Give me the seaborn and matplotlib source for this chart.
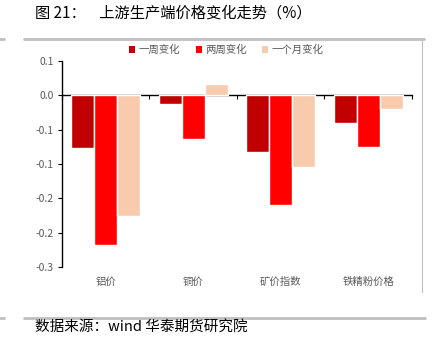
import numpy as np
import pandas as pd
import matplotlib
matplotlib.use("Agg")
import matplotlib.pyplot as plt
from matplotlib.lines import Line2D
from matplotlib.patches import Patch
from matplotlib.ticker import FixedLocator, FuncFormatter
import seaborn as sns
import math

categories = ["铝价", "铜价", "矿价指数", "铁精粉价格"]
series_names = ["一周变化", "两周变化", "一个月变化"]
week = [-0.077, -0.013, -0.083, -0.040]
two_week = [-0.218, -0.063, -0.160, -0.076]
month = [-0.176, 0.016, -0.105, -0.020]
colors = ["#C00000", "#FF0000", "#F8CBAD"]
y_ticks = [0.05, 0.0, -0.05, -0.10, -0.15, -0.20, -0.25]

df = pd.DataFrame({
    "cat": categories * 3,
    "series": [s for s in series_names for _ in categories],
    "val": week + two_week + month,
})

sns.set_theme(style="white")
plt.rcParams["font.family"] = ["Noto Sans CJK SC", "DejaVu Sans"]

fig = plt.figure(figsize=(4.35, 3.42), dpi=100)
ax = fig.add_axes([0.1425, 0.2184, 0.8046, 0.6041])

sns.barplot(data=df, x="cat", y="val", hue="series", order=categories,
            hue_order=series_names, palette=colors, width=0.79,
            saturation=1, ax=ax, legend=False, errorbar=None)

ax.set_ylim(-0.25, 0.05)
ax.set_xlim(-0.5, len(categories) - 0.5)
ax.yaxis.set_major_locator(FixedLocator(y_ticks))

def fmt(v, pos):
    r = math.copysign(math.floor(abs(v) * 10 + 0.5 + 1e-9) / 10, v)
    if abs(r) < 1e-12:
        return "0.0"
    return f"{r:.1f}"

ax.yaxis.set_major_formatter(FuncFormatter(fmt))
ax.set_xlabel("")
ax.set_ylabel("")
for s in ["top", "right", "bottom"]:
    ax.spines[s].set_visible(False)
ax.spines["left"].set_color("#000000")
ax.spines["left"].set_linewidth(1.0)
ax.tick_params(axis="y", direction="out", length=3, width=0.8, color="#000000",
               labelsize=7.5, labelcolor="#595959", pad=3, left=True)
ax.tick_params(axis="x", length=0, labelsize=7.5, labelcolor="#595959", pad=7)

# zero line axis with ticks at category boundaries
sec = ax.secondary_xaxis(0, transform=ax.transData)
sec.spines["bottom"].set_color("#000000")
sec.spines["bottom"].set_linewidth(1.0)
sec.set_xticks(np.arange(len(categories) + 1) - 0.5)
sec.set_xticklabels([])
sec.tick_params(axis="x", direction="out", length=3, width=0.8, color="#000000")

handles = [Patch(facecolor=c, edgecolor="none") for c in colors]
fig.legend(handles, series_names, loc="center", bbox_to_anchor=(0.52, 0.854),
           ncol=3, frameon=False, fontsize=7.5, labelcolor="#595959",
           handlelength=0.6, handleheight=0.6, handletextpad=0.3,
           columnspacing=1.5)

# title and source
fig.text(0.08, 0.962, "图 21：    上游生产端价格变化走势（%）", fontsize=11,
         color="#000000", va="center", ha="left")
fig.text(0.08, 0.045, "数据来源：wind 华泰期货研究院", fontsize=10.5,
         color="#000000", va="center", ha="left")

# frame decorations
gray = "#BFBFBF"
fig.add_artist(Line2D([24/435, 424/435], [1-39/342, 1-39/342], color=gray, lw=2.0))
fig.add_artist(Line2D([0, 4/435], [1-39/342, 1-39/342], color=gray, lw=2.0))
fig.add_artist(Line2D([422/435, 422/435], [1-39/342, 1-292/342], color=gray, lw=0.8))
fig.add_artist(Line2D([24/435, 425/435], [1-318/342, 1-318/342], color=gray, lw=2.0))
fig.add_artist(Line2D([0, 4/435], [1-318/342, 1-318/342], color=gray, lw=2.0))

fig.savefig("out.png", dpi=100)
